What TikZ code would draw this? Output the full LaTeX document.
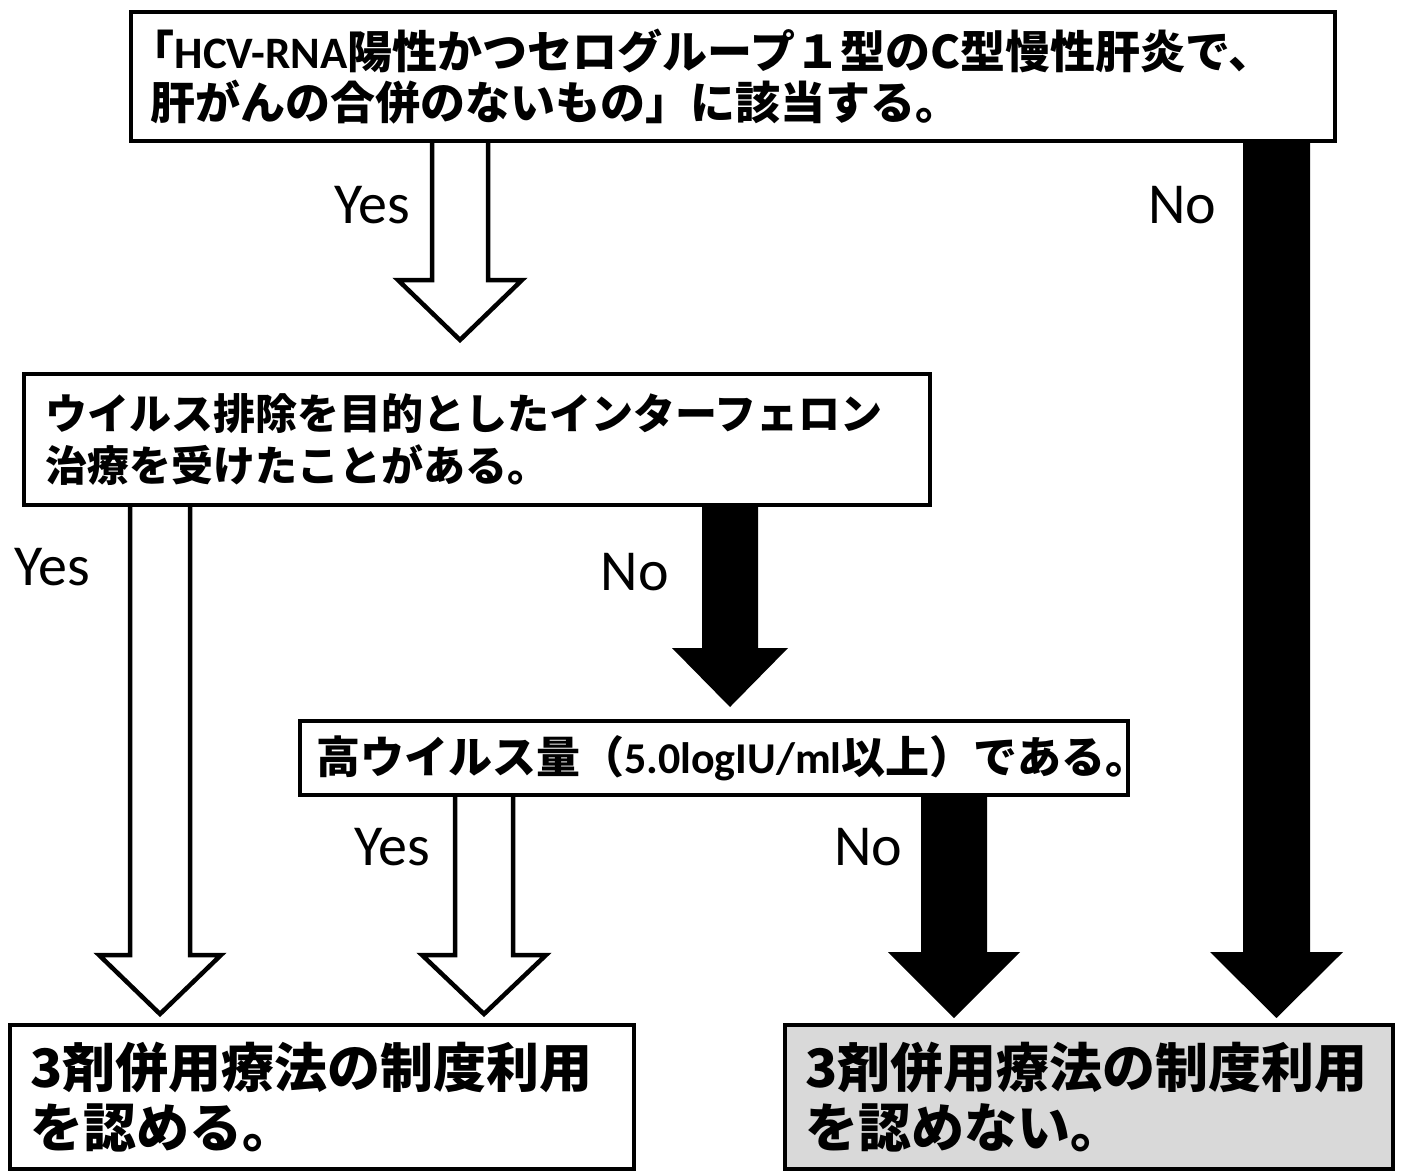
\documentclass[tikz,border=0pt]{standalone}
\usepackage{fontspec}
\newfontfamily\jp{Noto Sans CJK JP}
\newfontfamily\lat{Carlito}
\usetikzlibrary{calc}
\definecolor{nogray}{HTML}{D9D9D9}
\tikzset{
  box/.style={draw=black, line width=2pt, rectangle, align=left, anchor=center},
  lbl/.style={font=\lat\fontsize{29pt}{34pt}\selectfont, inner sep=0pt},
  yesarr/.style={draw=black, fill=white, line width=2.25pt, line join=miter},
  noarr/.style={fill=black, draw=none},
}
% #1 style, #2 x (px), #3 from node, #4 to node, #5 shaft half width, #6 head half width, #7 head length, #8 gap above target
\newcommand{\blockarr}[8]{%
  \coordinate (ba-s) at (#2,0 |- #3.south);
  \coordinate (ba-n) at (#2,0 |- #4.north);
  \coordinate (ba-t) at ($(ba-n)+(0,-#8)$);
  \draw[#1] ($(ba-s)+(-#5,0)$) -- ($(ba-t)+(-#5,-#7)$) -- ($(ba-t)+(-#6,-#7)$) -- (ba-t)
    -- ($(ba-t)+(#6,-#7)$) -- ($(ba-t)+(#5,-#7)$) -- ($(ba-s)+(#5,0)$);
}
\begin{document}
\begin{tikzpicture}[x=0.5pt, y=-0.5pt]
\useasboundingbox (0,0) rectangle (1406,1173);

\node[box, text width=583pt, inner xsep=9.5pt, minimum height=64.5pt,
  font={\jp\bfseries\fontsize{22.5pt}{25.5pt}\selectfont}] (q1) at (733,76.5)
  {\kern-0.45em「{\lat\bfseries HCV-RNA}陽性かつセログループ１型のC型慢性肝炎で、\\肝がんの合併のないもの」に該当する。};

\node[box, text width=432pt, inner xsep=10.5pt, minimum height=65.5pt,
  font={\jp\bfseries\fontsize{21pt}{26pt}\selectfont}] (q2) at (477,439.5)
  {ウイルス排除を目的としたインターフェロン\\治療を受けたことがある。};

\node[box, text width=398pt, inner xsep=8pt, minimum height=37pt,
  font={\jp\bfseries\fontsize{22pt}{26pt}\selectfont}] (q3) at (714,758)
  {高ウイルス量（{\lat\bfseries 5.0logIU/ml}以上）である。};

\node[box, text width=292pt, inner xsep=10pt, minimum height=72pt,
  font={\jp\bfseries\fontsize{26.5pt}{30pt}\selectfont}] (r1) at (322,1097)
  {3剤併用療法の制度利用\\を認める。};

\node[box, fill=nogray, text width=284pt, inner xsep=10pt, minimum height=72pt,
  font={\jp\bfseries\fontsize{26.5pt}{30pt}\selectfont}] (r2) at (1089,1097)
  {3剤併用療法の制度利用\\を認めない。};

\blockarr{yesarr}{460}{q1}{q2}{28}{62}{60}{32}
\blockarr{noarr}{1276.5}{q1}{r2}{33.5}{66.5}{66}{5}
\blockarr{yesarr}{160}{q2}{r1}{30}{61}{59}{9}
\blockarr{noarr}{730}{q2}{q3}{28}{58}{59}{12}
\blockarr{yesarr}{484}{q3}{r1}{29}{62}{59}{9}
\blockarr{noarr}{954}{q3}{r2}{33}{66}{66}{5}

\node[lbl] (y1) at (372,205) {Yes};
\node[lbl] (n1) at (1182,205) {No};
\node[lbl] (y2) at (52,567) {Yes};
\node[lbl] (n2) at (635,572) {No};
\node[lbl] (y3) at (392,847) {Yes};
\node[lbl] (n3) at (868,847) {No};
\end{tikzpicture}
\end{document}
